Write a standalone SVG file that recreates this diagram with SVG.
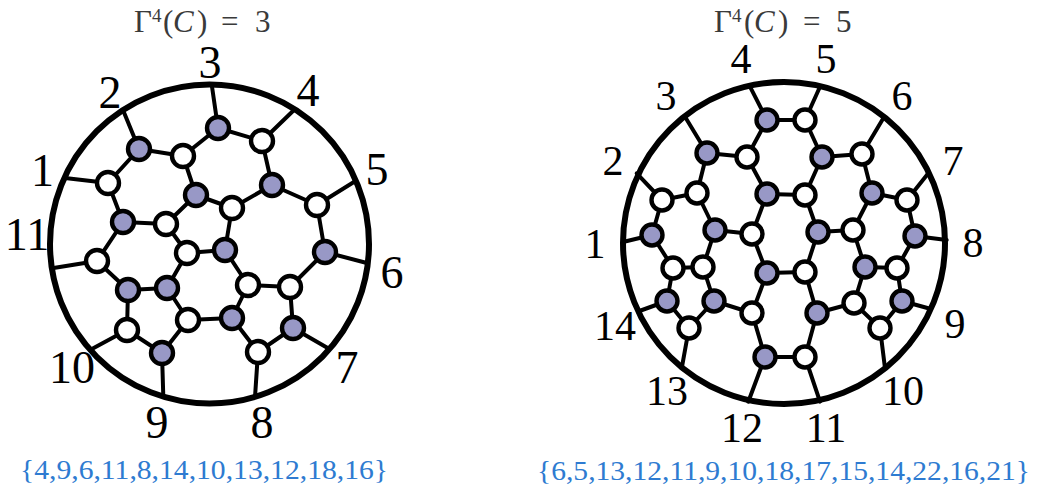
<svg xmlns="http://www.w3.org/2000/svg" width="1038" height="487" viewBox="0 0 1038 487">
<style>
.e{stroke:#000;stroke-width:4;stroke-linecap:round;fill:none}
.rim{fill:none;stroke:#000;stroke-width:6}
.p{fill:#9898c6;stroke:#000;stroke-width:4.4}
.w{fill:#fff;stroke:#000;stroke-width:4.4}
.L{font-family:"Liberation Serif","Times New Roman",serif;font-size:46px;text-anchor:middle;fill:#000}
.R{font-family:"Liberation Serif","Times New Roman",serif;font-size:42px;text-anchor:middle;fill:#000}
.t{font-family:"Liberation Serif","Times New Roman",serif;font-size:31px;fill:#3a3a3a}
.s{font-family:"Liberation Serif","Times New Roman",serif;font-size:28px;fill:#2e7bd1}
</style>
<rect width="1038" height="487" fill="#fff"/>

<!-- titles -->
<g id="title-left">
<text class="t" y="32"><tspan x="134">Γ</tspan><tspan x="152" y="22" font-size="19">4</tspan><tspan x="163" y="32">(</tspan><tspan x="173" font-style="italic">C</tspan><tspan x="197">)</tspan><tspan x="221">=</tspan><tspan x="255">3</tspan></text>
</g>
<g id="title-right">
<text class="t" y="32"><tspan x="714">Γ</tspan><tspan x="732" y="22" font-size="19">4</tspan><tspan x="744" y="32">(</tspan><tspan x="754" font-style="italic">C</tspan><tspan x="778">)</tspan><tspan x="803">=</tspan><tspan x="836">5</tspan></text>
</g>

<!-- connectors -->
<g id="connectors-left">
<line class="e" x1="108" y1="183" x2="65" y2="178"/>
<line class="e" x1="139" y1="149" x2="123" y2="110"/>
<line class="e" x1="218" y1="128" x2="211.7" y2="84.5"/>
<line class="e" x1="262" y1="141" x2="294.8" y2="109.2"/>
<line class="e" x1="317" y1="205" x2="355.9" y2="180.7"/>
<line class="e" x1="325" y1="252" x2="367.8" y2="263.3"/>
<line class="e" x1="293" y1="328" x2="329.4" y2="349.1"/>
<line class="e" x1="258" y1="352" x2="255" y2="397"/>
<line class="e" x1="162" y1="353" x2="163.3" y2="396.7"/>
<line class="e" x1="127" y1="330" x2="90" y2="350"/>
<line class="e" x1="97" y1="261" x2="53.5" y2="268"/>
<line class="e" x1="139" y1="149" x2="183" y2="156"/>
<line class="e" x1="183" y1="156" x2="218" y2="128"/>
<line class="e" x1="218" y1="128" x2="262" y2="141"/>
<line class="e" x1="262" y1="141" x2="272" y2="185"/>
<line class="e" x1="272" y1="185" x2="317" y2="205"/>
<line class="e" x1="317" y1="205" x2="325" y2="252"/>
<line class="e" x1="272" y1="185" x2="232" y2="208"/>
<line class="e" x1="232" y1="208" x2="196" y2="195"/>
<line class="e" x1="196" y1="195" x2="183" y2="156"/>
<line class="e" x1="139" y1="149" x2="108" y2="183"/>
<line class="e" x1="108" y1="183" x2="123" y2="222"/>
<line class="e" x1="123" y1="222" x2="166" y2="224"/>
<line class="e" x1="166" y1="224" x2="196" y2="195"/>
<line class="e" x1="166" y1="224" x2="187" y2="253"/>
<line class="e" x1="187" y1="253" x2="225" y2="250"/>
<line class="e" x1="225" y1="250" x2="232" y2="208"/>
<line class="e" x1="225" y1="250" x2="248" y2="285"/>
<line class="e" x1="248" y1="285" x2="290" y2="287"/>
<line class="e" x1="290" y1="287" x2="325" y2="252"/>
<line class="e" x1="248" y1="285" x2="232" y2="318"/>
<line class="e" x1="232" y1="318" x2="188" y2="320"/>
<line class="e" x1="188" y1="320" x2="167" y2="288"/>
<line class="e" x1="167" y1="288" x2="187" y2="253"/>
<line class="e" x1="128" y1="290" x2="167" y2="288"/>
<line class="e" x1="123" y1="222" x2="97" y2="261"/>
<line class="e" x1="97" y1="261" x2="128" y2="290"/>
<line class="e" x1="128" y1="290" x2="127" y2="330"/>
<line class="e" x1="127" y1="330" x2="162" y2="353"/>
<line class="e" x1="162" y1="353" x2="188" y2="320"/>
<line class="e" x1="290" y1="287" x2="293" y2="328"/>
<line class="e" x1="293" y1="328" x2="258" y2="352"/>
<line class="e" x1="258" y1="352" x2="232" y2="318"/>
</g>
<g id="connectors-right">
<line class="e" x1="652" y1="235" x2="623" y2="242"/>
<line class="e" x1="662" y1="200" x2="636.7" y2="173.3"/>
<line class="e" x1="707" y1="153" x2="685" y2="116.7"/>
<line class="e" x1="767" y1="120" x2="750" y2="86.7"/>
<line class="e" x1="805" y1="120" x2="820" y2="86.7"/>
<line class="e" x1="862" y1="154" x2="883.3" y2="118.3"/>
<line class="e" x1="907" y1="200" x2="928.3" y2="173.3"/>
<line class="e" x1="915" y1="236" x2="946.7" y2="240"/>
<line class="e" x1="902" y1="301" x2="928.3" y2="308.3"/>
<line class="e" x1="880" y1="328" x2="885" y2="368.3"/>
<line class="e" x1="805" y1="357" x2="820" y2="401.7"/>
<line class="e" x1="765" y1="357" x2="748.3" y2="401.7"/>
<line class="e" x1="689" y1="328" x2="681.7" y2="368.3"/>
<line class="e" x1="667" y1="301" x2="638" y2="311.5"/>
<line class="e" x1="767" y1="120" x2="805" y2="120"/>
<line class="e" x1="767" y1="120" x2="747" y2="157"/>
<line class="e" x1="805" y1="120" x2="822" y2="157"/>
<line class="e" x1="707" y1="153" x2="747" y2="157"/>
<line class="e" x1="707" y1="153" x2="697" y2="193"/>
<line class="e" x1="747" y1="157" x2="767" y2="194"/>
<line class="e" x1="822" y1="157" x2="862" y2="154"/>
<line class="e" x1="822" y1="157" x2="805" y2="195"/>
<line class="e" x1="767" y1="194" x2="805" y2="195"/>
<line class="e" x1="862" y1="154" x2="872" y2="193"/>
<line class="e" x1="767" y1="194" x2="752" y2="234"/>
<line class="e" x1="805" y1="195" x2="818" y2="232"/>
<line class="e" x1="662" y1="200" x2="697" y2="193"/>
<line class="e" x1="662" y1="200" x2="652" y2="235"/>
<line class="e" x1="697" y1="193" x2="715" y2="230"/>
<line class="e" x1="872" y1="193" x2="907" y2="200"/>
<line class="e" x1="872" y1="193" x2="853" y2="230"/>
<line class="e" x1="907" y1="200" x2="915" y2="236"/>
<line class="e" x1="652" y1="235" x2="673" y2="268"/>
<line class="e" x1="715" y1="230" x2="752" y2="234"/>
<line class="e" x1="715" y1="230" x2="703" y2="267"/>
<line class="e" x1="752" y1="234" x2="767" y2="273"/>
<line class="e" x1="818" y1="232" x2="853" y2="230"/>
<line class="e" x1="818" y1="232" x2="805" y2="272"/>
<line class="e" x1="853" y1="230" x2="865" y2="267"/>
<line class="e" x1="915" y1="236" x2="897" y2="268"/>
<line class="e" x1="673" y1="268" x2="703" y2="267"/>
<line class="e" x1="673" y1="268" x2="667" y2="301"/>
<line class="e" x1="703" y1="267" x2="714" y2="301"/>
<line class="e" x1="767" y1="273" x2="805" y2="272"/>
<line class="e" x1="767" y1="273" x2="752" y2="313"/>
<line class="e" x1="805" y1="272" x2="817" y2="313"/>
<line class="e" x1="865" y1="267" x2="897" y2="268"/>
<line class="e" x1="865" y1="267" x2="854" y2="303"/>
<line class="e" x1="897" y1="268" x2="902" y2="301"/>
<line class="e" x1="667" y1="301" x2="689" y2="328"/>
<line class="e" x1="714" y1="301" x2="752" y2="313"/>
<line class="e" x1="714" y1="301" x2="689" y2="328"/>
<line class="e" x1="752" y1="313" x2="765" y2="357"/>
<line class="e" x1="817" y1="313" x2="854" y2="303"/>
<line class="e" x1="817" y1="313" x2="805" y2="357"/>
<line class="e" x1="854" y1="303" x2="880" y2="328"/>
<line class="e" x1="902" y1="301" x2="880" y2="328"/>
<line class="e" x1="765" y1="357" x2="805" y2="357"/>
</g>

<!-- boundary circles -->
<g id="boundary-left"><circle class="rim" cx="209.5" cy="244" r="159.5"/></g>
<g id="boundary-right"><circle class="rim" cx="784" cy="243" r="161"/></g>

<!-- nodes left -->
<g id="nodes-left">
<g id="L-A"><circle class="p" cx="218" cy="128" r="11"/></g>
<g id="L-a"><circle class="w" cx="262" cy="141" r="11"/></g>
<g id="L-B"><circle class="p" cx="139" cy="149" r="11"/></g>
<g id="L-b"><circle class="w" cx="183" cy="156" r="11"/></g>
<g id="L-c"><circle class="w" cx="108" cy="183" r="11"/></g>
<g id="L-C"><circle class="p" cx="196" cy="195" r="11"/></g>
<g id="L-D"><circle class="p" cx="272" cy="185" r="11"/></g>
<g id="L-e"><circle class="w" cx="317" cy="205" r="11"/></g>
<g id="L-d"><circle class="w" cx="232" cy="208" r="11"/></g>
<g id="L-E"><circle class="p" cx="123" cy="222" r="11"/></g>
<g id="L-f"><circle class="w" cx="166" cy="224" r="11"/></g>
<g id="L-F"><circle class="p" cx="225" cy="250" r="11"/></g>
<g id="L-G"><circle class="p" cx="325" cy="252" r="11"/></g>
<g id="L-g"><circle class="w" cx="187" cy="253" r="11"/></g>
<g id="L-h"><circle class="w" cx="97" cy="261" r="11"/></g>
<g id="L-H"><circle class="p" cx="128" cy="290" r="11"/></g>
<g id="L-I"><circle class="p" cx="167" cy="288" r="11"/></g>
<g id="L-i"><circle class="w" cx="248" cy="285" r="11"/></g>
<g id="L-j"><circle class="w" cx="290" cy="287" r="11"/></g>
<g id="L-J"><circle class="p" cx="232" cy="318" r="11"/></g>
<g id="L-k"><circle class="w" cx="188" cy="320" r="11"/></g>
<g id="L-K"><circle class="p" cx="293" cy="328" r="11"/></g>
<g id="L-l"><circle class="w" cx="127" cy="330" r="11"/></g>
<g id="L-L"><circle class="p" cx="162" cy="353" r="11"/></g>
<g id="L-m"><circle class="w" cx="258" cy="352" r="11"/></g>
</g>

<!-- nodes right -->
<g id="nodes-right">
<g id="R-P1"><circle class="p" cx="767" cy="120" r="10.5"/></g>
<g id="R-W1"><circle class="w" cx="805" cy="120" r="10.5"/></g>
<g id="R-P2"><circle class="p" cx="707" cy="153" r="10.5"/></g>
<g id="R-W2"><circle class="w" cx="747" cy="157" r="10.5"/></g>
<g id="R-P3"><circle class="p" cx="822" cy="157" r="10.5"/></g>
<g id="R-W3"><circle class="w" cx="862" cy="154" r="10.5"/></g>
<g id="R-P4"><circle class="p" cx="767" cy="194" r="10.5"/></g>
<g id="R-W4"><circle class="w" cx="805" cy="195" r="10.5"/></g>
<g id="R-P5"><circle class="p" cx="872" cy="193" r="10.5"/></g>
<g id="R-W5"><circle class="w" cx="662" cy="200" r="10.5"/></g>
<g id="R-W6"><circle class="w" cx="697" cy="193" r="10.5"/></g>
<g id="R-W7"><circle class="w" cx="907" cy="200" r="10.5"/></g>
<g id="R-P6"><circle class="p" cx="652" cy="235" r="10.5"/></g>
<g id="R-P7"><circle class="p" cx="715" cy="230" r="10.5"/></g>
<g id="R-W8"><circle class="w" cx="752" cy="234" r="10.5"/></g>
<g id="R-P8"><circle class="p" cx="818" cy="232" r="10.5"/></g>
<g id="R-W9"><circle class="w" cx="853" cy="230" r="10.5"/></g>
<g id="R-P9"><circle class="p" cx="915" cy="236" r="10.5"/></g>
<g id="R-W10"><circle class="w" cx="673" cy="268" r="10.5"/></g>
<g id="R-W11"><circle class="w" cx="703" cy="267" r="10.5"/></g>
<g id="R-P10"><circle class="p" cx="767" cy="273" r="10.5"/></g>
<g id="R-W12"><circle class="w" cx="805" cy="272" r="10.5"/></g>
<g id="R-P11"><circle class="p" cx="865" cy="267" r="10.5"/></g>
<g id="R-W13"><circle class="w" cx="897" cy="268" r="10.5"/></g>
<g id="R-P12"><circle class="p" cx="667" cy="301" r="10.5"/></g>
<g id="R-P13"><circle class="p" cx="714" cy="301" r="10.5"/></g>
<g id="R-W14"><circle class="w" cx="752" cy="313" r="10.5"/></g>
<g id="R-P14"><circle class="p" cx="817" cy="313" r="10.5"/></g>
<g id="R-W15"><circle class="w" cx="854" cy="303" r="10.5"/></g>
<g id="R-P15"><circle class="p" cx="902" cy="301" r="10.5"/></g>
<g id="R-W16"><circle class="w" cx="689" cy="328" r="10.5"/></g>
<g id="R-W17"><circle class="w" cx="880" cy="328" r="10.5"/></g>
<g id="R-P16"><circle class="p" cx="765" cy="357" r="10.5"/></g>
<g id="R-W18"><circle class="w" cx="805" cy="357" r="10.5"/></g>
</g>

<!-- boundary labels -->
<g id="labels-left">
<text class="L" x="42.5" y="186">1</text>
<text class="L" x="110" y="108">2</text>
<text class="L" x="210" y="78">3</text>
<text class="L" x="308" y="106">4</text>
<text class="L" x="377" y="185">5</text>
<text class="L" x="392" y="288">6</text>
<text class="L" x="347" y="383">7</text>
<text class="L" x="262" y="438">8</text>
<text class="L" x="157" y="438">9</text>
<text class="L" x="72" y="383">10</text>
<text class="L" x="27" y="250">11</text>
</g>
<g id="labels-right">
<text class="R" x="595" y="258">1</text>
<text class="R" x="613" y="175">2</text>
<text class="R" x="666" y="110">3</text>
<text class="R" x="741" y="73">4</text>
<text class="R" x="826" y="73">5</text>
<text class="R" x="902" y="110">6</text>
<text class="R" x="953" y="175">7</text>
<text class="R" x="973" y="257">8</text>
<text class="R" x="955" y="338">9</text>
<text class="R" x="903" y="405">10</text>
<text class="R" x="826" y="442">11</text>
<text class="R" x="742" y="442">12</text>
<text class="R" x="667" y="405">13</text>
<text class="R" x="615" y="340">14</text>
</g>

<!-- sets -->
<g id="set-left"><text class="s" x="20" y="479" textLength="368" lengthAdjust="spacingAndGlyphs">{4,9,6,11,8,14,10,13,12,18,16}</text></g>
<g id="set-right"><text class="s" x="537" y="480" textLength="493" lengthAdjust="spacingAndGlyphs">{6,5,13,12,11,9,10,18,17,15,14,22,16,21}</text></g>
</svg>
